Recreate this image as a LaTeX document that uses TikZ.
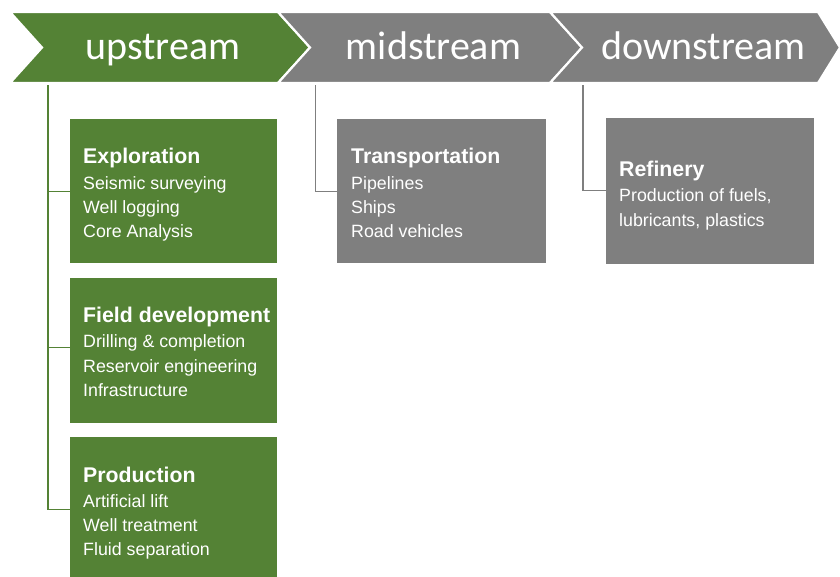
\documentclass[tikz,border=0pt]{standalone}
\usepackage{fontspec}
\setmainfont{Liberation Sans}
\newfontfamily\headfont{Carlito}
\definecolor{upgreen}{RGB}{84,130,53}
\definecolor{stgray}{RGB}{127,127,127}
\begin{document}
\begin{tikzpicture}[x=1pt,y=-1pt,
  chev/.style={draw=white, line width=2.2pt, line join=miter},
  head/.style={text=white, font=\headfont\fontsize{40}{48}\selectfont, anchor=base, inner sep=0pt},
  card/.style={minimum width=207pt, minimum height=144pt, inner sep=0pt, anchor=north west, draw=none},
  ttl/.style={text=white, anchor=base west, inner sep=0pt, font=\bfseries\fontsize{21.3}{26}\selectfont},
  itm/.style={text=white, anchor=base west, inner sep=0pt, font=\fontsize{17.8}{24}\selectfont},
  gline/.style={draw=upgreen, line width=1.4pt},
  kline/.style={draw=stgray, line width=1.2pt}]
\useasboundingbox (0,0) rectangle (840,576);
\clip (0,0) rectangle (840,576);
\fill[white] (0,0) rectangle (840,576);

% chevrons
\path[chev, fill=upgreen] (10,12) -- (278,12) -- (310,47.5) -- (278,83) -- (10,83) -- (42,47.5) -- cycle;
\path[chev, fill=stgray] (278,12) -- (550,12) -- (582,47.5) -- (550,83) -- (278,83) -- (310,47.5) -- cycle;
\path[chev, fill=stgray] (550,12) -- (818,12) -- (840,47.5) -- (818,83) -- (550,83) -- (582,47.5) -- cycle;
\node[head] (upT) at (163,59.5) {upstream};
\node[head] (midT) at (433.5,59.5) {midstream};
\node[head] (downT) at (703.5,59.5) {downstream};

% boxes
\node[card, fill=upgreen] (exp) at (70,119) {};
\node[card, fill=upgreen, minimum height=145pt] (fld) at (70,278) {};
\node[card, fill=upgreen] (prd) at (70,437) {};
\node[card, fill=stgray, minimum width=209pt] (trn) at (337,119) {};
\node[card, fill=stgray, minimum width=208pt, minimum height=146pt] (ref) at (606,118) {};

% connectors
\coordinate (upS) at (48,85);
\coordinate (midS) at (315.5,85);
\coordinate (downS) at (583,85);
\draw[gline] (upS) |- (exp.west);
\draw[gline] (upS) |- ([yshift=3.5pt]fld.west);
\draw[gline] (upS) |- (prd.west);
\draw[kline] (midS) |- (trn.west);
\draw[kline] (downS) |- ([yshift=1pt]ref.west);

% texts
\node[ttl] (e0) at (83,163) {Exploration};
\node[itm] (e1) at (83,189) {Seismic surveying};
\node[itm] (e2) at (83,213) {Well logging};
\node[itm] (e3) at (83,237) {Core Analysis};

\node[ttl] (f0) at (83,322.5) {Field development};
\node[itm] (f1) at (83,347.5) {Drilling \& completion};
\node[itm] (f2) at (83,372) {Reservoir engineering};
\node[itm] (f3) at (83,396.5) {Infrastructure};

\node[ttl] (p0) at (83,482) {Production};
\node[itm] (p1) at (83,507) {Artificial lift};
\node[itm] (p2) at (83,531) {Well treatment};
\node[itm] (p3) at (83,555) {Fluid separation};

\node[ttl] (t0) at (351,163) {Transportation};
\node[itm] (t1) at (351,189) {Pipelines};
\node[itm] (t2) at (351,213) {Ships};
\node[itm] (t3) at (351,237) {Road vehicles};

\node[ttl] (r0) at (619,176) {Refinery};
\node[itm] (r1) at (619,201.5) {Production of fuels,};
\node[itm] (r2) at (619,226) {lubricants, plastics};
\end{tikzpicture}
\end{document}
